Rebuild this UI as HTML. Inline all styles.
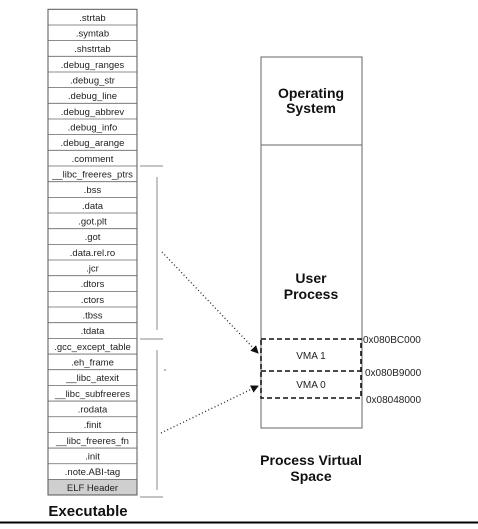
<!DOCTYPE html>
<html><head><style>
body{margin:0;background:#fff;}
svg text{font-family:"Liberation Sans",Arial,sans-serif;}
</style></head><body>
<svg width="478" height="524" xmlns="http://www.w3.org/2000/svg">
<defs><marker id="ah" markerWidth="8" markerHeight="8" refX="7" refY="4" orient="auto" markerUnits="userSpaceOnUse"><path d="M0,0 L8,4 L0,8 Z" fill="#111"/></marker></defs>
<rect x="48" y="479.3" width="89" height="15.7" fill="#cfcfcf"/>
<g id="rows" font-size="9.5" fill="#222" text-anchor="middle"></g>
<g stroke="#555" stroke-width="1" fill="none">
<rect x="48" y="9.3" width="89" height="485.7"/>
</g>
<g id="lines" stroke="#666" stroke-width="0.8"></g>
<g stroke="#888" stroke-width="1">
<line x1="140" y1="166" x2="163" y2="166"/>
<line x1="157" y1="177" x2="157" y2="330"/>
<line x1="140" y1="339" x2="163" y2="339"/>
<line x1="157" y1="350" x2="157" y2="490"/>
<line x1="140" y1="497" x2="163" y2="497"/>
</g>
<text x="88" y="516" font-size="15" font-weight="bold" text-anchor="middle" fill="#111">Executable</text>
<line x1="0" y1="522.5" x2="478" y2="522.5" stroke="#000" stroke-width="2"/>
<rect x="261" y="57" width="101" height="371" fill="none" stroke="#666" stroke-width="1"/>
<line x1="261" y1="145" x2="362" y2="145" stroke="#666"/>
<g font-size="14" font-weight="bold" text-anchor="middle" fill="#111">
<text x="311" y="98">Operating</text><text x="311" y="113">System</text>
<text x="311" y="283">User</text><text x="311" y="299">Process</text>
<text x="311" y="465">Process Virtual</text><text x="311" y="481">Space</text>
</g>
<g stroke="#111" stroke-width="1.6" stroke-dasharray="5,3" fill="none">
<rect x="261" y="339" width="100" height="59"/>
<line x1="261" y1="371" x2="361" y2="371"/>
</g>
<g font-size="10" fill="#222">
<text x="311" y="359" text-anchor="middle">VMA 1</text>
<text x="311" y="388" text-anchor="middle">VMA 0</text>
<text x="363" y="343">0x080BC000</text>
<text x="365" y="376">0x080B9000</text>
<text x="366" y="403">0x08048000</text>
</g>
<g stroke="#222" stroke-width="1.3" stroke-dasharray="1,2.5" fill="none">
<line x1="162" y1="252" x2="258" y2="353" marker-end="url(#ah)"/>
<line x1="161" y1="433" x2="258" y2="386" marker-end="url(#ah)"/>
</g>
<circle cx="165" cy="370" r="0.8" fill="#666"/>
</svg>
<script>
var n=[".strtab",".symtab",".shstrtab",".debug_ranges",".debug_str",".debug_line",".debug_abbrev",".debug_info",".debug_arange",".comment","__libc_freeres_ptrs",".bss",".data",".got.plt",".got",".data.rel.ro",".jcr",".dtors",".ctors",".tbss",".tdata",".gcc_except_table",".eh_frame","__libc_atexit","__libc_subfreeres",".rodata",".finit","__libc_freeres_fn",".init",".note.ABI-tag","ELF Header"];
var g=document.getElementById("rows"),l=document.getElementById("lines"),ns="http://www.w3.org/2000/svg";
n.forEach(function(s,i){var y=9.3+i*15.67;var t=document.createElementNS(ns,"text");t.setAttribute("x",92.5);t.setAttribute("y",y+11.5);t.textContent=s;g.appendChild(t);
if(i>0){var ln=document.createElementNS(ns,"line");ln.setAttribute("x1",48);ln.setAttribute("x2",137);ln.setAttribute("y1",y);ln.setAttribute("y2",y);l.appendChild(ln);}});
</script>
</body></html>
